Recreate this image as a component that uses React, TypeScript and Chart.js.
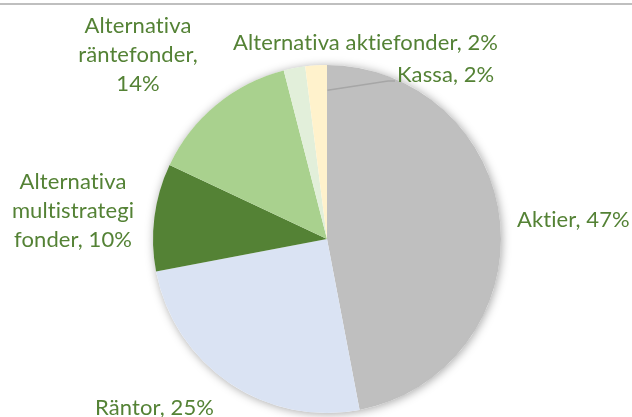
import React, { useEffect, useRef } from "react";
import { Chart, registerables } from "chart.js";

Chart.register(...registerables);

const categories = [
  "Aktier",
  "Räntor",
  "Alternativa multistrategi fonder",
  "Alternativa räntefonder",
  "Alternativa aktiefonder",
  "Kassa",
];
const values = [47, 25, 10, 14, 2, 2];
const colors = ["#bfbfbf", "#dae3f3", "#548235", "#a9d18e", "#e2efda", "#fff2cc"];

// how each data label is wrapped (category + value)
const labelLines: string[][] = [
  ["Aktier, 47%"],
  ["Räntor, 25%"],
  ["Alternativa", "multistrategi", "fonder, 10%"],
  ["Alternativa", "räntefonder,", "14%"],
  ["Alternativa aktiefonder, 2%"],
  ["Kassa, 2%"],
];

// label layout: anchor x, first baseline y, alignment
const labelLayout = [
  { x: 517, y: 227, align: "left" },
  { x: 95, y: 415, align: "left" },
  { x: 73, y: 189, align: "center" },
  { x: 138, y: 33, align: "center" },
  { x: 233, y: 50, align: "left" },
  { x: 397, y: 82, align: "left" },
];

const FONT = "Lato, 'Open Sans', sans-serif";
const FONT_SIZE = 22;
const LINE_H = 29;
const TEXT_COLOR = "#548235";

const decorPlugin = {
  id: "decor",
  beforeDatasetsDraw(chart: any) {
    const meta = chart.getDatasetMeta(0);
    const arc = meta.data[0];
    if (!arc) return;
    const { x, y, outerRadius } = arc;
    const ctx = chart.ctx;
    ctx.save();
    ctx.beginPath();
    ctx.arc(x, y, outerRadius, 0, Math.PI * 2);
    ctx.fillStyle = "#ffffff";
    ctx.shadowColor = "rgba(0,0,0,0.35)";
    ctx.shadowBlur = 10;
    ctx.shadowOffsetX = 1;
    ctx.shadowOffsetY = 1;
    ctx.fill();
    ctx.restore();
  },
  afterDraw(chart: any) {
    const ctx = chart.ctx;
    ctx.save();
    // top rule
    ctx.fillStyle = "#bfbfbf";
    ctx.fillRect(0, 3, chart.width, 2);

    // leader line for the Kassa label
    const meta = chart.getDatasetMeta(0);
    const kassa = meta.data[5];
    if (kassa) {
      const mid = (kassa.startAngle + kassa.endAngle) / 2;
      const r = kassa.outerRadius * 0.86;
      const sy = kassa.y + Math.sin(mid) * r;
      ctx.strokeStyle = "#a6a6a6";
      ctx.lineWidth = 1.5;
      ctx.beginPath();
      ctx.moveTo(kassa.x + 0.5, sy + 0.5);
      ctx.lineTo(labelLayout[5].x - 9, labelLayout[5].y - 1);
      ctx.lineTo(labelLayout[5].x - 2, labelLayout[5].y - 1);
      ctx.stroke();
    }

    ctx.fillStyle = TEXT_COLOR;
    ctx.font = `${FONT_SIZE}px ${FONT}`;
    try {
      ctx.letterSpacing = "0.1px";
    } catch (e) {}
    ctx.textBaseline = "alphabetic";
    labelLines.forEach((lines, i) => {
      const L = labelLayout[i];
      ctx.textAlign = L.align;
      lines.forEach((t, j) => ctx.fillText(t, L.x, L.y + j * LINE_H));
    });
    ctx.restore();
  },
};

export default function App() {
  const ref = useRef<HTMLCanvasElement>(null);
  useEffect(() => {
    document.body.style.margin = "0";
    const chart = new Chart(ref.current!, {
      type: "pie",
      data: {
        labels: categories,
        datasets: [
          {
            data: values,
            backgroundColor: colors,
            borderWidth: 0,
          },
        ],
      },
      options: {
        responsive: false,
        animation: false,
        layout: { padding: { left: 153, right: 131, top: 65, bottom: 4 } },
        plugins: {
          legend: { display: false },
          tooltip: { enabled: false },
        },
      },
      plugins: [decorPlugin],
    });
    return () => chart.destroy();
  }, []);
  return (
    <div style={{ width: 632, height: 417, background: "#fff" }}>
      <canvas ref={ref} width={632} height={417} />
    </div>
  );
}
